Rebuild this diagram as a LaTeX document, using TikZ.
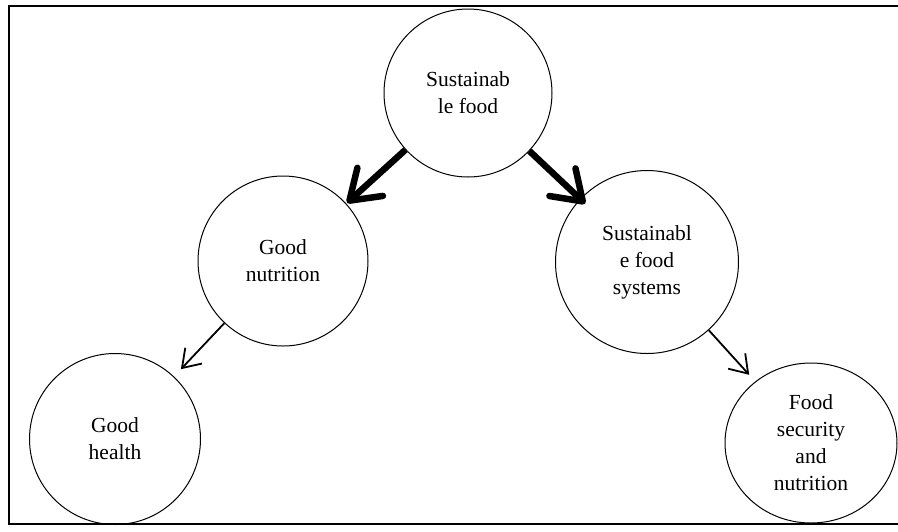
\documentclass[tikz,border=0pt]{standalone}
\usepackage{fontspec}
\setmainfont{Liberation Serif}
\usetikzlibrary{arrows.meta, shapes.geometric}

\begin{document}
\begin{tikzpicture}[x=1pt, y=-1pt, font=\fontsize{21.5}{27}\selectfont]

			\tikzstyle{bubble}=[circle, draw=black, line width=1pt, inner sep=0pt, align=center]
			\tikzstyle{oval}=[ellipse, draw=black, line width=1pt, inner sep=0pt, align=center]
			\tikzstyle{bigarrow}=[-{Straight Barb[length=28pt, width=38pt, round]}, line width=6.5pt]
			\tikzstyle{smallarrow}=[-{Straight Barb[length=17pt, width=23pt]}, line width=1.8pt]

			\useasboundingbox (0,0) rectangle (898,531);
			\draw[line width=2pt] (9,5.5) rectangle (904,523.5);

			\node at (468,93) (food) [bubble, minimum size=168pt] {Sustainab\\le food};
			\node at (283,261) (nutrition) [bubble, minimum size=170pt] {Good\\nutrition};
			\node at (647,262) (systems) [bubble, minimum size=183pt] {Sustainabl\\e food\\systems};
			\node at (115,439) (health) [bubble, minimum size=171pt] {Good\\health};
			\node at (811,443) (security) [oval, minimum width=172pt, minimum height=160pt] {Food\\security\\and\\nutrition};

			\draw[bigarrow, shorten >=1pt] (food) -- (nutrition);
			\draw[bigarrow, shorten >=-7pt] (food) -- (systems);
			\draw[smallarrow, shorten >=10pt] (nutrition) -- (health);
			\draw[smallarrow, shorten >=9pt] (systems) -- (security);
		\end{tikzpicture}
\end{document}
